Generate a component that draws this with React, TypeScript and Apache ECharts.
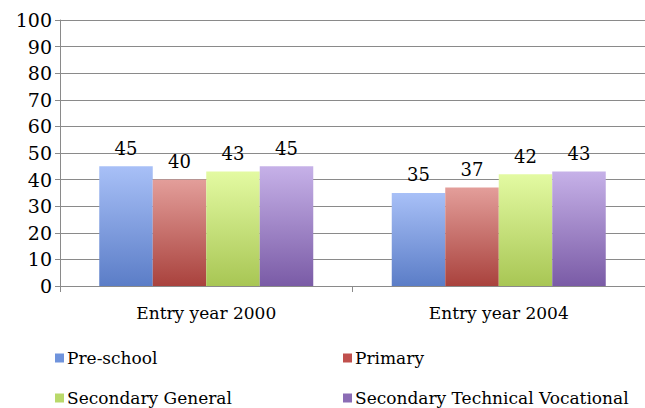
import React, { useEffect, useRef } from "react";
import * as echarts from "echarts";

const categories = ["Entry year 2000", "Entry year 2004"];
const seriesNames = ["Pre-school", "Primary", "Secondary General", "Secondary Technical Vocational"];
const preSchool = [45, 35];
const primary = [40, 37];
const secondaryGeneral = [43, 42];
const secondaryTechVoc = [45, 43];
const yTicks = [0, 10, 20, 30, 40, 50, 60, 70, 80, 90, 100];

const palette = [
  { top: "#a8c0f7", bottom: "#5b7dc7", solid: "#6f93dc" },
  { top: "#e39e9a", bottom: "#a9423d", solid: "#c0504d" },
  { top: "#e3faa2", bottom: "#a8c654", solid: "#b9d96a" },
  { top: "#c6b1e8", bottom: "#7a5ba6", solid: "#8b6cb5" },
];

const FONT = "DejaVu Serif";

export default function App() {
  const ref = useRef<HTMLDivElement>(null);
  useEffect(() => {
    if (!ref.current) return;
    const chart = echarts.init(ref.current, null, { renderer: "svg" });
    const values = [preSchool, primary, secondaryGeneral, secondaryTechVoc];
    chart.setOption({
      animation: false,
      textStyle: { fontFamily: FONT },
      grid: { left: 60, right: -5, top: 20, bottom: 122 },
      legend: {
        left: 50,
        top: 344,
        width: 600,
        padding: 5,
        itemWidth: 9,
        itemHeight: 9,
        itemGap: 22,
        icon: "rect",
        data: seriesNames.map((n, i) => ({ name: n, itemStyle: { color: palette[i].solid } })),
        textStyle: { fontFamily: FONT, fontSize: 17, color: "#000", width: 254, lineHeight: 18, padding: [0, 0, 0, -2] },
      },
      xAxis: {
        type: "category",
        data: categories,
        axisLine: { show: true, lineStyle: { color: "#8a8a8a", width: 1 } },
        axisTick: { show: true, length: 6, lineStyle: { color: "#8a8a8a" } },
        axisLabel: { fontFamily: FONT, fontSize: 17, color: "#000", margin: 18 },
      },
      yAxis: {
        type: "value",
        min: 0,
        max: 100,
        interval: 10,
        axisLine: { show: true, lineStyle: { color: "#8a8a8a", width: 1 } },
        axisTick: { show: true, length: 5, lineStyle: { color: "#8a8a8a" } },
        splitLine: { show: true, lineStyle: { color: "#8a8a8a", width: 1 } },
        axisLabel: {
          fontFamily: FONT,
          fontSize: 19,
          color: "#000",
          margin: 8,
          formatter: (v: number) => (yTicks.includes(v) ? String(v) : ""),
        },
      },
      series: seriesNames.map((name, i) => ({
        name,
        type: "bar",
        data: values[i],
        barWidth: 53.5,
        barGap: "0%",
        itemStyle: {
          color: new echarts.graphic.LinearGradient(0, 0, 0, 1, [
            { offset: 0, color: palette[i].top },
            { offset: 1, color: palette[i].bottom },
          ]),
        },
        label: {
          show: true,
          position: "top",
          distance: 9,
          fontFamily: FONT,
          fontSize: 18,
          color: "#000",
        },
      })),
    });
    return () => chart.dispose();
  }, []);
  return <div ref={ref} style={{ width: 645, height: 408, position: "absolute", left: 0, top: 0 }} />;
}
